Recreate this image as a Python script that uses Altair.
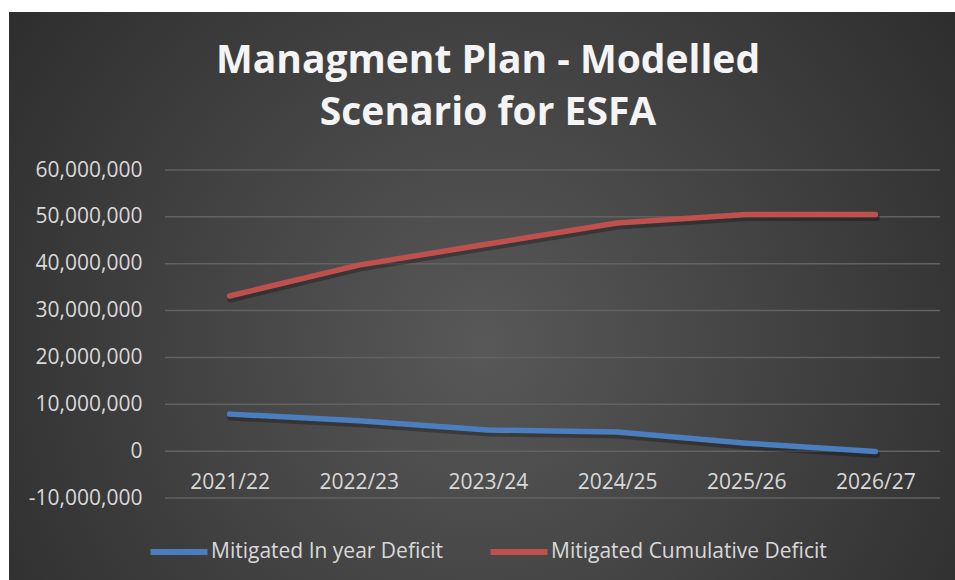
import altair as alt
import pandas as pd

YEARS = ["2021/22", "2022/23", "2023/24", "2024/25", "2025/26", "2026/27"]
IN_YEAR = [7.9e6, 6.5e6, 4.5e6, 4.1e6, 1.7e6, -0.1e6]
CUMULATIVE = [33.1e6, 39.7e6, 44.2e6, 48.7e6, 50.5e6, 50.5e6]
SERIES = ["Mitigated In year Deficit", "Mitigated Cumulative Deficit"]
COLORS = ["#4A7EBF", "#C0504D"]
TICKS = [-10e6, 0, 10e6, 20e6, 30e6, 40e6, 50e6, 60e6]
TITLE_LINES = ["Managment Plan - Modelled", "Scenario for ESFA"]

rows = []
for s, vals in zip(SERIES, [IN_YEAR, CUMULATIVE]):
    for y, v in zip(YEARS, vals):
        rows.append({"year": y, "series": s, "value": v})
df = pd.DataFrame(rows)
grid_df = pd.DataFrame({"v": TICKS})

FONT = "Open Sans"
W, H = 775, 328
PAD_L, PAD_T = 165, 170

yscale = alt.Scale(domain=[-10e6, 60e6], nice=False, zero=False)
xscale = alt.Scale(type="point", padding=0.5)

XAX = alt.Axis(
    title=None, offset=-47, domain=False, ticks=False, labelAngle=0,
    labelFont=FONT, labelFontSize=21, labelColor="#d9d9d9", labelPadding=20,
    grid=False, zindex=1,
)
YAX = alt.Axis(
    title=None, values=TICKS, domain=False, ticks=False, grid=False,
    labelFont=FONT, labelFontSize=21, labelColor="#d9d9d9", labelPadding=23,
    labelExpr="datum.value < 0 ? '-' + format(-datum.value, ',') : format(datum.value, ',')",
    zindex=1,
)

bg = alt.Chart(alt.Data(values=[{}])).mark_rect(
    fill={
        "gradient": "radial",
        "x1": 0.5, "y1": 0.55, "r1": 0,
        "x2": 0.5, "y2": 0.55, "r2": 0.72,
        "stops": [
            {"offset": 0, "color": "#585858"},
            {"offset": 1, "color": "#262626"},
        ],
    }
).encode(
    x=alt.value(9 - PAD_L), x2=alt.value(955 - PAD_L),
    y=alt.value(12 - PAD_T), y2=alt.value(580 - PAD_T),
)

grid = alt.Chart(grid_df).mark_rule(color="#626262", strokeWidth=1.5).encode(
    y=alt.Y("v:Q", scale=yscale, axis=YAX)
)

shadow = alt.Chart(df).mark_line(
    strokeWidth=7, strokeCap="round", strokeJoin="round",
    color="#000000", opacity=0.28, yOffset=3, xOffset=1,
).encode(
    x=alt.X("year:N", sort=YEARS, scale=xscale, axis=XAX),
    y=alt.Y("value:Q", scale=yscale, axis=YAX),
    detail="series:N",
)

lines = alt.Chart(df).mark_line(
    strokeWidth=5.5, strokeCap="round", strokeJoin="round"
).encode(
    x=alt.X("year:N", sort=YEARS, scale=xscale, axis=XAX),
    y=alt.Y("value:Q", scale=yscale, axis=YAX),
    color=alt.Color(
        "series:N",
        scale=alt.Scale(domain=SERIES, range=COLORS),
        sort=SERIES,
        legend=alt.Legend(
            title=None, orient="none", legendX=-18, legendY=350, direction="horizontal",
            symbolType="stroke", symbolStrokeWidth=6, symbolSize=3250,
            labelFont=FONT, labelFontSize=21, labelColor="#d9d9d9",
            labelOffset=0, labelLimit=600, columnPadding=34,
        ),
    ),
)

title = alt.Chart(alt.Data(values=[{}])).mark_text(
    text=TITLE_LINES, font=FONT, fontSize=39, fontWeight="bold", align="center",
    baseline="alphabetic", lineHeight=52, color="#f4f4f4",
).encode(x=alt.value(488 - PAD_L), y=alt.value(73 - PAD_T))

chart = alt.layer(bg, grid, shadow, lines, title).properties(
    width=W, height=H,
    autosize=alt.AutoSizeParams(type="none"),
    padding={"left": PAD_L, "top": PAD_T, "right": 955 - PAD_L - W, "bottom": 580 - PAD_T - H},
    background="white",
).configure_view(stroke=None)

chart.save("out.html", embed_options={"renderer": "svg", "actions": False})
